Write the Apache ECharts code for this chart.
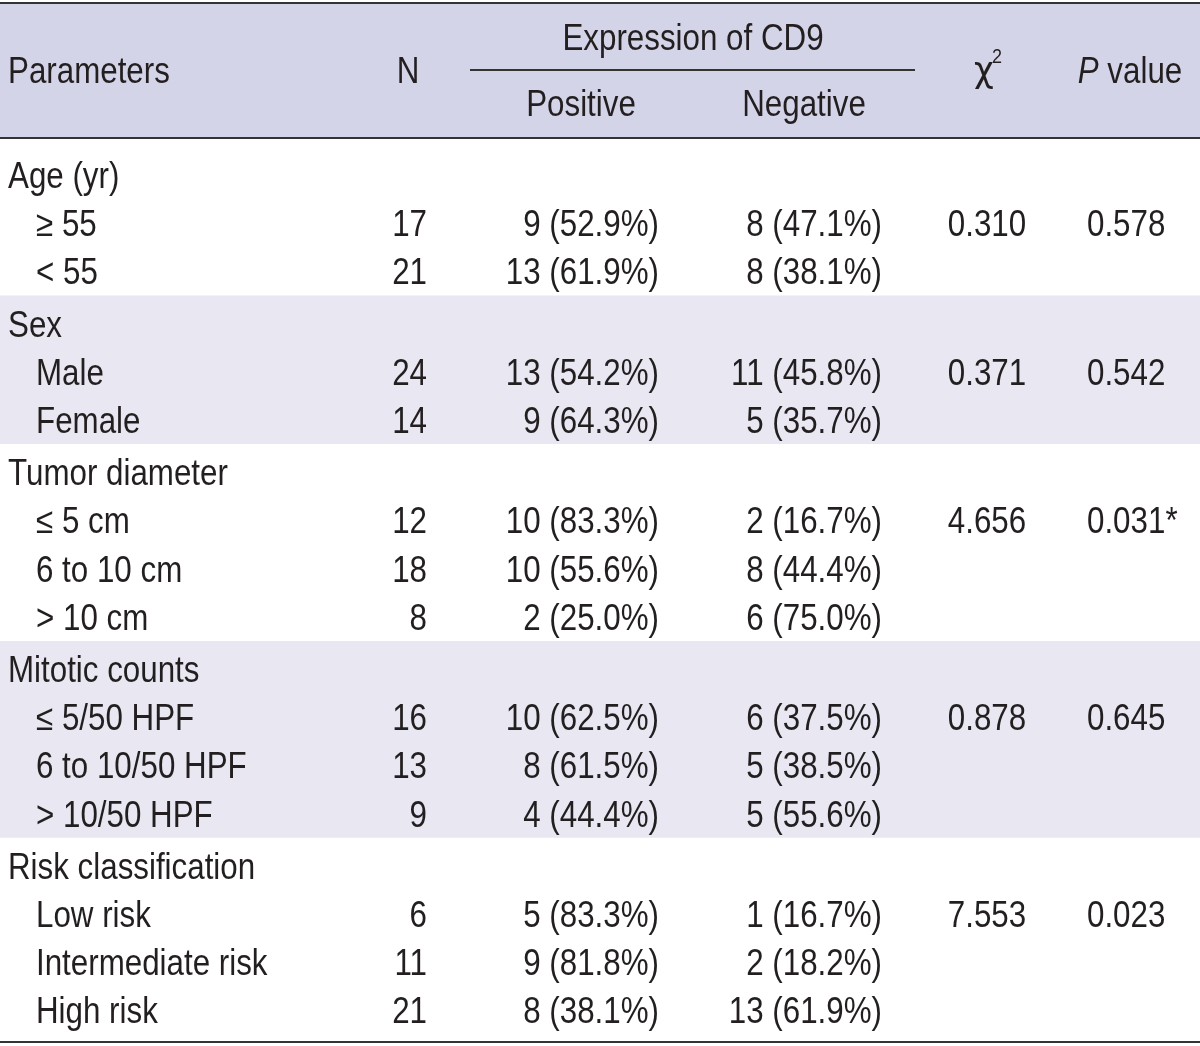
<!DOCTYPE html>
<html><head><meta charset="utf-8">
<script src="https://cdn.jsdelivr.net/npm/echarts@6/dist/echarts.min.js"></script>
<style>html,body{margin:0;padding:0;background:#fff}#c{width:1200px;height:1046px}</style>
</head><body><div id="c"></div>
<script>
// ---- data ----
const columnHeaders = ['Parameters', 'N', 'Expression of CD9', 'Positive', 'Negative', 'χ', 'P value'];
const groupNames = ['Age (yr)', 'Sex', 'Tumor diameter', 'Mitotic counts', 'Risk classification'];
const subgroups = [
  ['≥ 55', '< 55'],
  ['Male', 'Female'],
  ['≤ 5 cm', '6 to 10 cm', '> 10 cm'],
  ['≤ 5/50 HPF', '6 to 10/50 HPF', '> 10/50 HPF'],
  ['Low risk', 'Intermediate risk', 'High risk']
];
const nValues = [[17, 21], [24, 14], [12, 18, 8], [16, 13, 9], [6, 11, 21]];
const positiveCounts = [[9, 13], [13, 9], [10, 10, 2], [10, 8, 4], [5, 9, 8]];
const positivePct = [[52.9, 61.9], [54.2, 64.3], [83.3, 55.6, 25.0], [62.5, 61.5, 44.4], [83.3, 81.8, 38.1]];
const negativeCounts = [[8, 8], [11, 5], [2, 8, 6], [6, 5, 5], [1, 2, 13]];
const negativePct = [[47.1, 38.1], [45.8, 35.7], [16.7, 44.4, 75.0], [37.5, 38.5, 55.6], [16.7, 18.2, 61.9]];
const chiSquare = ['0.310', '0.371', '4.656', '0.878', '7.553'];
const pValues = ['0.578', '0.542', '0.031*', '0.645', '0.023'];

// ---- layout (axis units) ----
const INK = '#231f20', LINE = '#333333';
const HEAD_BG = '#d4d4e8', BAND_BG = '#e8e7f2';
const FONT_FAMILY = '"Liberation Sans", Arial, sans-serif';
const CHI_FONT = '"DejaVu Sans", "Noto Sans", sans-serif';
const FS = 36, SX = 0.87;
const GAP = 0.083;
const TDY = 0.062;
const Y_MIN = -3.089, Y_MAX = 18.508;
const HY_TOP = -2.363, HY_MID = -1.678, HY_BOT = -0.994, H_LINE = -0.268;
const X = { label: 8, sub: 36, n: 427, nHead: 408, pos: 659, posHead: 581, neg: 882, negHead: 804,
            expr: 693, chi: 987, p: 1087, pHead: 1130, uStart: 470, uEnd: 915 };

const cells = [];
const bands = [];
const lines = [];

cells.push({ value: [X.label, HY_MID + TDY], text: columnHeaders[0], align: 'left' });
cells.push({ value: [X.nHead, HY_MID + TDY], text: columnHeaders[1], align: 'center' });
cells.push({ value: [X.expr, HY_TOP + TDY], text: columnHeaders[2], align: 'center' });
cells.push({ value: [X.posHead, HY_BOT + TDY], text: columnHeaders[3], align: 'center' });
cells.push({ value: [X.negHead, HY_BOT + TDY], text: columnHeaders[4], align: 'center' });
cells.push({ value: [X.chi - 3, HY_MID + 0.06], text: columnHeaders[5], align: 'center', size: 36, sx: 0.95, family: CHI_FONT });
cells.push({ value: [X.chi + 5, HY_MID - 0.26], text: '2', align: 'left', size: 20, sx: 0.9 });
cells.push({ value: [X.pHead, HY_MID + TDY], text: '{i|P} value', align: 'center', rich: true });

bands.push({ value: [Y_MIN, H_LINE], color: HEAD_BG });
lines.push({ value: [0, 1200, Y_MIN + 0.02] });
lines.push({ value: [0, 1200, H_LINE] });
lines.push({ value: [X.uStart, X.uEnd, HY_MID] });
lines.push({ value: [0, 1200, Y_MAX - 0.02] });

let row = 0;
groupNames.forEach((g, gi) => {
  const off = gi * GAP;
  const headY = row + 0.5 + off;
  cells.push({ value: [X.label, headY + TDY], text: g, align: 'left' });
  row++;
  subgroups[gi].forEach((s, si) => {
    const y = row + 0.5 + off + TDY;
    cells.push({ value: [X.sub, y], text: s, align: 'left' });
    cells.push({ value: [X.n, y], text: String(nValues[gi][si]), align: 'right' });
    cells.push({ value: [X.pos, y], text: positiveCounts[gi][si] + ' (' + positivePct[gi][si].toFixed(1) + '%)', align: 'right' });
    cells.push({ value: [X.neg, y], text: negativeCounts[gi][si] + ' (' + negativePct[gi][si].toFixed(1) + '%)', align: 'right' });
    if (si === 0) {
      cells.push({ value: [X.chi, y], text: chiSquare[gi], align: 'center' });
      cells.push({ value: [X.p, y], text: pValues[gi], align: 'left' });
    }
    row++;
  });
  if (gi % 2 === 1) {
    bands.push({ value: [headY - 0.5 - GAP, row + off], color: BAND_BG });
  }
});

const chart = echarts.init(document.getElementById('c'), null, { renderer: 'canvas' });
chart.setOption({
  animation: false,
  backgroundColor: '#ffffff',
  grid: { left: 0, right: 0, top: 2, bottom: 3, containLabel: false },
  xAxis: { type: 'value', min: 0, max: 1200, show: false },
  yAxis: { type: 'value', min: Y_MIN, max: Y_MAX, inverse: true, show: false },
  series: [
    {
      type: 'custom', z: 1, data: bands,
      renderItem: (params, api) => {
        const b = bands[params.dataIndex];
        const p0 = api.coord([0, api.value(0)]);
        const p1 = api.coord([1200, api.value(1)]);
        return { type: 'rect', shape: { x: p0[0], y: p0[1], width: p1[0] - p0[0], height: p1[1] - p0[1] },
                 style: { fill: b.color } };
      }
    },
    {
      type: 'custom', z: 3, data: lines,
      renderItem: (params, api) => {
        const a = api.coord([api.value(0), api.value(2)]);
        const b = api.coord([api.value(1), api.value(2)]);
        return { type: 'line', shape: { x1: a[0], y1: a[1], x2: b[0], y2: b[1] },
                 style: { stroke: LINE, lineWidth: 2 } };
      }
    },
    {
      type: 'custom', z: 5, data: cells,
      renderItem: (params, api) => {
        const c = cells[params.dataIndex];
        const p = api.coord([api.value(0), api.value(1)]);
        const style = { text: c.text, fill: INK, fontFamily: c.family || FONT_FAMILY, fontSize: c.size || FS,
                        align: c.align, verticalAlign: 'middle' };
        if (c.rich) style.rich = { i: { fontStyle: 'italic', fontFamily: FONT_FAMILY, fontSize: FS, fill: INK } };
        return { type: 'text', x: p[0], y: p[1], scaleX: c.sx || SX, style: style };
      }
    }
  ]
});
</script>
</body></html>
